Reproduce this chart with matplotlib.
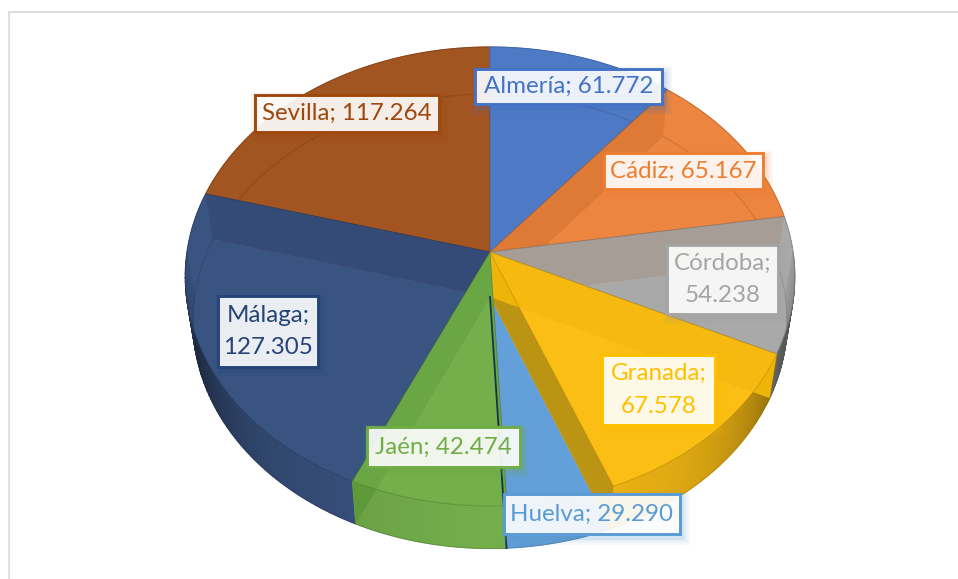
import numpy as np
import matplotlib
matplotlib.use("Agg")
import matplotlib.pyplot as plt
from matplotlib.patches import Polygon, Rectangle

plt.rcParams['font.family'] = ['Lato', 'DejaVu Sans']

# Data
provincias = ['Almería', 'Cádiz', 'Córdoba', 'Granada', 'Huelva', 'Jaén', 'Málaga', 'Sevilla']
valores = [61772, 65167, 54238, 67578, 29290, 42474, 127305, 117264]
etiquetas = ['Almería; 61.772', 'Cádiz; 65.167', 'Córdoba;\n54.238', 'Granada;\n67.578',
             'Huelva; 29.290', 'Jaén; 42.474', 'Málaga;\n127.305', 'Sevilla; 117.264']
colores = ['#4E7AC5', '#EB853F', '#A9A9A9', '#FBBE14', '#639FD8', '#74AF4C', '#3A5482', '#A35521']
colores_txt = ['#4472C4', '#ED7D31', '#A5A5A5', '#FFC000', '#5B9BD5', '#70AD47', '#264478', '#9E480E']
# colour of the cut face on the start and on the end side of each slice
corte_ini = ['#39599A', '#CC6C2A', '#A68D7E', '#EEB40A', '#4F88C0', '#5F9A3A', '#1E2A52', '#7F3F14']
corte_fin = ['#39599A', '#CC6C2A', '#808080', '#BC9414', '#4F88C0', '#5F9A3A', '#2A3F66', '#7F3F14']

# Label boxes (x0, y0, x1, y1) in pixels
cajas = [(475, 69, 662, 104), (604, 153, 763, 189), (667, 245, 778, 314), (602, 355, 715, 425),
         (504, 494, 680, 534), (367, 427, 520, 467), (218, 296, 318, 367), (255, 95, 439, 132)]

# Pie geometry, perspective of the top and the bottom disc
CX, CY = 490, 252
CY_B = 297
A, B, K = 303.0, 226.9, 0.1067
SX_B, SY_B = 0.975, 0.99
ALPHA = 0.6

fracs = np.array(valores) / sum(valores)
bordes = np.concatenate([[0], np.cumsum(fracs)]) * 2 * np.pi


def top(th):
    x, y = np.sin(th), -np.cos(th)
    w = 1 - K * y
    return CX + A * x / w, CY + B * y / w


def bottom(th):
    x, y = top(th)
    return CX + SX_B * (x - CX), CY_B + SY_B * (y - CY)


def scale(col, f):
    return tuple(np.clip(np.array(matplotlib.colors.to_rgb(col)) * f, 0, 1))


fig = plt.figure(figsize=(9.58, 5.79), dpi=100)
ax = fig.add_axes([0, 0, 1, 1])
ax.set_xlim(0, 958)
ax.set_ylim(579, 0)
ax.axis('off')

# frame
ax.plot([9.5, 9.5, 958], [579, 11.5, 11.5], color='#D9D9D9', lw=1.2)

# draw order: what lies on top of what in the reference
orden = [7, 0, 6, 1, 2, 4, 3, 5]
for i in orden:
    col = colores[i]
    th = np.linspace(bordes[i], bordes[i + 1], 80)
    tx, ty = top(th)
    bx, by = bottom(th)

    # floor
    ax.add_patch(Polygon(np.c_[np.r_[CX, bx], np.r_[CY_B, by]], fc=col, ec='none', zorder=2))

    # outer wall in small quads, darker towards the sides
    for j in range(len(th) - 1):
        s = abs(np.sin(th[j]))
        c = -np.cos(th[j])
        f = 1.0
        if c > 0:
            f = 1 - 0.18 * s - 0.45 * s ** 6 * min(1, c / 0.3)
        ax.add_patch(Polygon([[tx[j], ty[j]], [tx[j + 1], ty[j + 1]], [bx[j + 1], by[j + 1]], [bx[j], by[j]]],
                             fc=scale(col, f), ec=scale(col, f), lw=0.8, zorder=2))

    # cut faces
    for k, cc in ((-1, corte_fin[i]), (0, corte_ini[i])):
        ax.add_patch(Polygon([[CX, CY], [tx[k], ty[k]], [bx[k], by[k]], [CX, CY_B]],
                             fc=cc, ec='none', zorder=2))

    # top face
    ax.add_patch(Polygon(np.c_[np.r_[CX, tx], np.r_[CY, ty]], fc=col, ec='none', alpha=ALPHA, zorder=2))
    ax.add_patch(Polygon(np.c_[np.r_[CX, tx], np.r_[CY, ty]], fc='none', ec=scale(col, 0.7), lw=0.7,
                         alpha=0.5, zorder=2))
    # rim of the floor, seen through the top
    ax.plot(bx, by, color=scale(col, 0.6), lw=0.7, alpha=0.35, zorder=2)

# dark edge between Huelva and Jaén
hx, hy = bottom(np.array([bordes[5]]))
ax.plot([CX, hx[0]], [CY_B, hy[0]], color='#17324D', lw=1.3, zorder=3)

# labels
for et, caja, c in zip(etiquetas, cajas, colores_txt):
    x0, y0, x1, y1 = caja
    for d, a in ((7, 0.05), (5, 0.06), (3, 0.08), (1.5, 0.1)):
        ax.add_patch(Rectangle((x0 - d + 3, y0 - d + 4), x1 - x0 + 2 * d, y1 - y0 + 2 * d, fc=c, ec='none',
                               alpha=a, zorder=4))
    ax.add_patch(Rectangle((x0, y0), x1 - x0, y1 - y0, fc='white', ec='none', alpha=0.9, zorder=5))
    ax.add_patch(Rectangle((x0, y0), x1 - x0, y1 - y0, fc='none', ec=c, lw=2.1, zorder=5))
    ax.text((x0 + x1) / 2, (y0 + y1) / 2, et, color=c, fontsize=17.4, ha='center', va='center',
            linespacing=1.7, zorder=6)

fig.savefig('out.png', dpi=100)
